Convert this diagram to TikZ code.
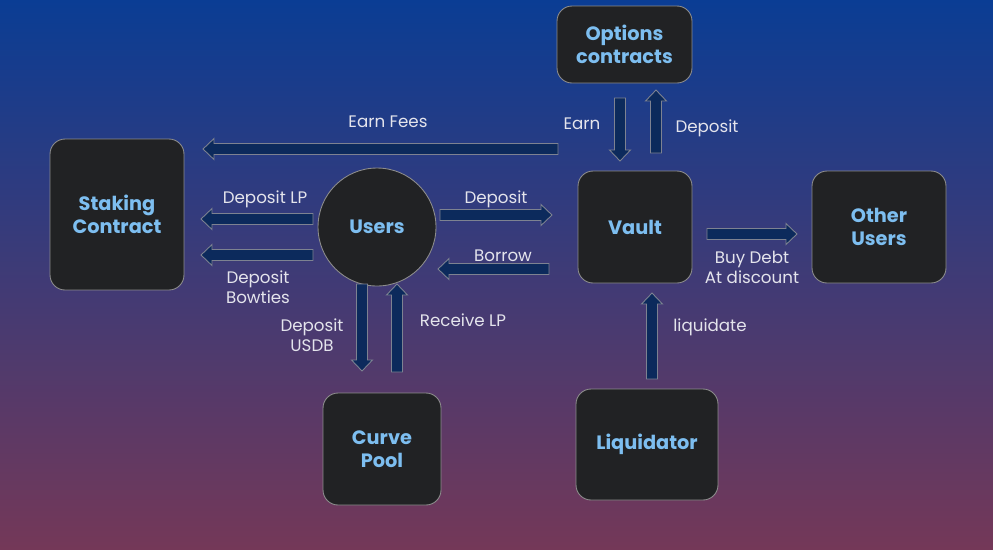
\documentclass[tikz,border=0pt]{standalone}
\usepackage{fontspec}
\setmainfont{Poppins}
\usetikzlibrary{positioning, calc, shapes.geometric}

\definecolor{bgtop}{RGB}{10,61,148}
\definecolor{bgbot}{RGB}{116,56,88}
\definecolor{boxfill}{RGB}{33,34,36}
\definecolor{boxline}{RGB}{140,140,140}
\definecolor{boxtext}{RGB}{125,190,240}
\definecolor{arrfill}{RGB}{12,42,92}
\definecolor{arrline}{RGB}{125,130,145}
\definecolor{labtext}{RGB}{228,228,236}

% block arrow from #1 to #2
\newcommand{\flowarrow}[2]{%
  \coordinate (tmpc) at ($(#2)!0.22cm!(#1)$);
  \draw[flow] ($(#1)!0.11cm!90:(#2)$) -- ($(tmpc)!0.11cm!90:(#2)$) -- ($(tmpc)!0.21cm!90:(#2)$)
    -- (#2) -- ($(tmpc)!0.21cm!-90:(#2)$) -- ($(tmpc)!0.11cm!-90:(#2)$) -- ($(#1)!0.11cm!-90:(#2)$) -- cycle;}

\begin{document}
\begin{tikzpicture}[x=0.02cm, y=-0.02cm,
    party/.style={rectangle, draw=boxline, fill=boxfill, rounded corners=0.3cm, line width=0.5pt, align=center, text=boxtext, font=\fontsize{11}{12.8}\selectfont\bfseries, inner sep=0pt},
    hub/.style={circle, draw=boxline, fill=boxfill, line width=0.5pt, minimum size=2.36cm, text=boxtext, font=\fontsize{11}{12.8}\selectfont\bfseries, inner sep=0pt},
    flow/.style={draw=arrline, fill=arrfill, line width=0.5pt, line join=miter},
    lab/.style={text=labtext, align=center, font=\fontsize{9.5}{11.4}\selectfont, inner sep=0pt}
]

% Background
\shade[top color=bgtop, bottom color=bgbot] (0,0) rectangle (993,549);
\useasboundingbox (0,0) rectangle (993,549);

% Parties
\node (options) [party, minimum width=2.7cm, minimum height=1.54cm] at (624.5,44.5) {Options\\contracts};
\node (staking) [party, minimum width=2.68cm, minimum height=3.02cm] at (117,214.5) {Staking\\Contract};
\node (users) [hub] at (377,227) {Users};
\node (vault) [party, minimum width=2.28cm, minimum height=2.24cm] at (635,227) {Vault};
\node (others) [party, minimum width=2.68cm, minimum height=2.24cm] at (879,227) {Other\\Users};
\node (curve) [party, minimum width=2.36cm, minimum height=2.24cm] at (382,449) {Curve\\Pool};
\node (liq) [party, minimum width=2.84cm, minimum height=2.22cm] at (647,444.5) {Liquidator};

% Arrow end points
\coordinate (feesA) at (558,149);  \coordinate (feesB) at (203,149);
\coordinate (earnA) at (620,98);   \coordinate (earnB) at (620,161);
\coordinate (optA) at (656,153);   \coordinate (optB) at (656,90);
\coordinate (lpA) at (313,219);    \coordinate (lpB) at (201,219);
\coordinate (bowA) at (313,255);   \coordinate (bowB) at (201,255);
\coordinate (depA) at (440,215);   \coordinate (depB) at (552,215);
\coordinate (borA) at (549,269);   \coordinate (borB) at (438,269);
\coordinate (debtA) at (707,234);  \coordinate (debtB) at (797,234);
\coordinate (usdbA) at (362,284);  \coordinate (usdbB) at (362,371);
\coordinate (recA) at (397,372);   \coordinate (recB) at (397,284);
\coordinate (liqA) at (652,379);   \coordinate (liqB) at (652,293);

% Flows
\flowarrow{feesA}{feesB}
\flowarrow{earnA}{earnB}
\flowarrow{optA}{optB}
\flowarrow{lpA}{lpB}
\flowarrow{bowA}{bowB}
\flowarrow{depA}{depB}
\flowarrow{borA}{borB}
\flowarrow{debtA}{debtB}
\flowarrow{usdbA}{usdbB}
\flowarrow{recA}{recB}
\flowarrow{liqA}{liqB}

% Labels
\node (lfees) [lab] at (388,122) {Earn Fees};
\node (learn) [lab] at (582,124) {Earn};
\node (lopt) [lab] at (707,128) {Deposit};
\node (llp) [lab] at (265,199) {Deposit LP};
\node (lbow) [lab] at (258,287) {Deposit\\Bowties};
\node (ldep) [lab] at (496,199) {Deposit};
\node (lbor) [lab] at (503,256) {Borrow};
\node (ldebt) [lab] at (752,267) {Buy Debt\\At discount};
\node (lusdb) [lab] at (312,335) {Deposit\\USDB};
\node (lrec) [lab] at (463,320) {Receive LP};
\node (lliq) [lab] at (710,327) {liquidate};

\end{tikzpicture}
\end{document}
